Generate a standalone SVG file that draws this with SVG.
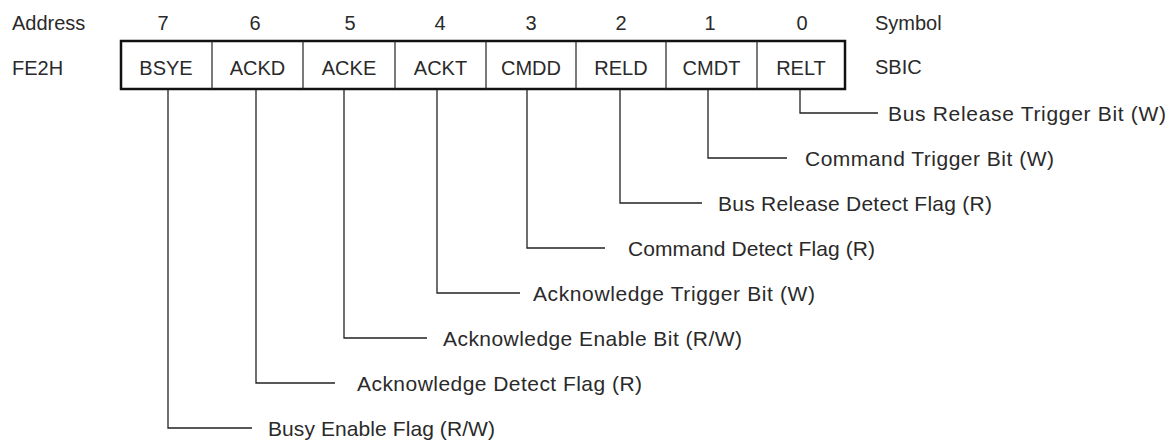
<svg xmlns="http://www.w3.org/2000/svg" width="1169" height="443" viewBox="0 0 1169 443">
<style>
text{font-family:"Liberation Sans",Arial,sans-serif;font-size:20px;fill:#2a2a2a}
.c{text-anchor:middle}
.lb{font-size:21px}
.box{fill:#fff;stroke:#111;stroke-width:2.5}
.div{stroke:#222;stroke-width:1.2}
.ln{fill:none;stroke:#222;stroke-width:1.3}
</style>
<rect width="1169" height="443" fill="#fff"/>
<g id="header">
<text x="12" y="30">Address</text>
<text x="12" y="75">FE2H</text>
<text x="875" y="30">Symbol</text>
<text x="875" y="74">SBIC</text>
<text class="c" x="163" y="30">7</text>
<text class="c" x="255" y="30">6</text>
<text class="c" x="350" y="30">5</text>
<text class="c" x="440" y="30">4</text>
<text class="c" x="531" y="30">3</text>
<text class="c" x="621" y="30">2</text>
<text class="c" x="710" y="30">1</text>
<text class="c" x="802" y="30">0</text>
</g>
<g id="register">
<rect class="box" x="121" y="41" width="724" height="48"/>
<line class="div" x1="212" y1="41" x2="212" y2="89"/>
<line class="div" x1="303" y1="41" x2="303" y2="89"/>
<line class="div" x1="395" y1="41" x2="395" y2="89"/>
<line class="div" x1="486" y1="41" x2="486" y2="89"/>
<line class="div" x1="576" y1="41" x2="576" y2="89"/>
<line class="div" x1="666" y1="41" x2="666" y2="89"/>
<line class="div" x1="757" y1="41" x2="757" y2="89"/>
</g>
<g id="bit7"><text class="c" x="166" y="75">BSYE</text></g>
<g id="bit6"><text class="c" x="257.5" y="75">ACKD</text></g>
<g id="bit5"><text class="c" x="349" y="75">ACKE</text></g>
<g id="bit4"><text class="c" x="440.5" y="75">ACKT</text></g>
<g id="bit3"><text class="c" x="531" y="75">CMDD</text></g>
<g id="bit2"><text class="c" x="621" y="75">RELD</text></g>
<g id="bit1"><text class="c" x="711.5" y="75">CMDT</text></g>
<g id="bit0"><text class="c" x="801" y="75">RELT</text></g>
<g id="connectors">
<polyline class="ln" points="800,90 800,113 878,113"/>
<polyline class="ln" points="708,90 708,158 787,158"/>
<polyline class="ln" points="620,90 620,203 702,203"/>
<polyline class="ln" points="527,90 527,248 605,248"/>
<polyline class="ln" points="437,90 437,293 520,293"/>
<polyline class="ln" points="344,90 344,338 427,338"/>
<polyline class="ln" points="256,90 256,383 335,383"/>
<polyline class="ln" points="168,90 168,428 252,428"/>
</g>
<g id="labels">
<text class="lb" x="888" y="120.5" textLength="278">Bus Release Trigger Bit (W)</text>
<text class="lb" x="805" y="165.5" textLength="249">Command Trigger Bit (W)</text>
<text class="lb" x="718" y="210.5" textLength="274">Bus Release Detect Flag (R)</text>
<text class="lb" x="628" y="255.5" textLength="247">Command Detect Flag (R)</text>
<text class="lb" x="533" y="300.5" textLength="282">Acknowledge Trigger Bit (W)</text>
<text class="lb" x="443" y="345.5" textLength="299">Acknowledge Enable Bit (R/W)</text>
<text class="lb" x="357" y="390.5" textLength="285">Acknowledge Detect Flag (R)</text>
<text class="lb" x="268" y="435.5" textLength="227">Busy Enable Flag (R/W)</text>
</g>
</svg>
